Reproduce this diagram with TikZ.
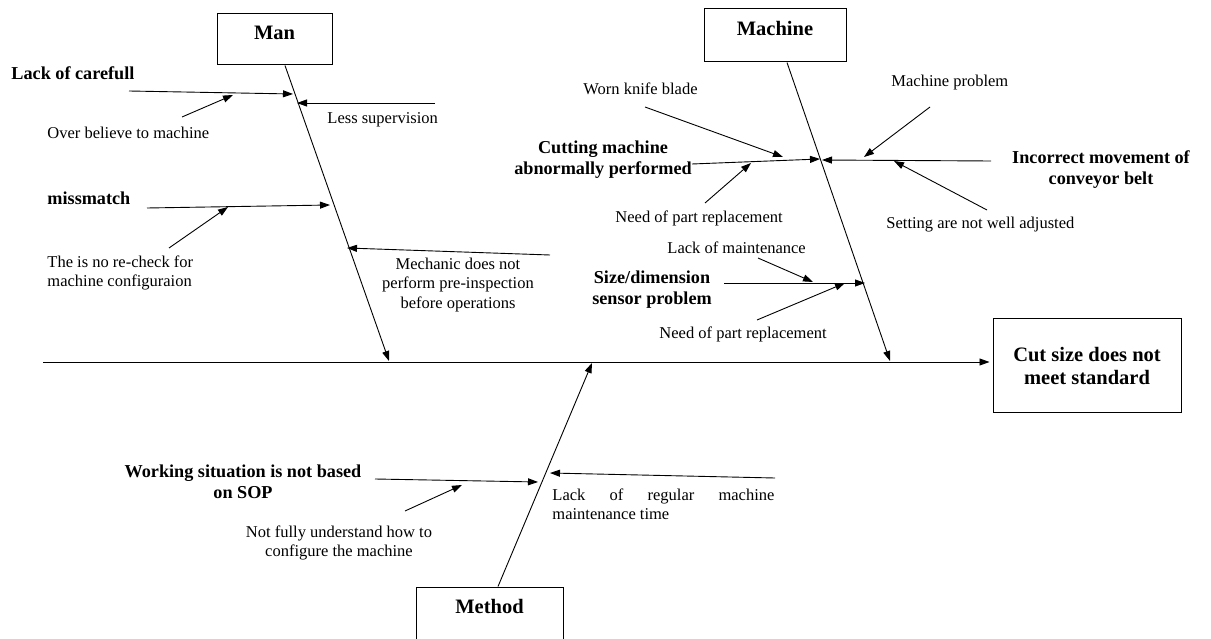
\documentclass[tikz,border=0pt]{standalone}
\usepackage{fontspec}
\setmainfont{Liberation Serif}
\usetikzlibrary{arrows.meta,calc}
\begin{document}
\begin{tikzpicture}[x=1pt,y=-1pt,
  line width=0.9pt,
  arr/.style={-{Triangle[length=10pt,width=7pt]}, line width=0.9pt},
  catbox/.style={draw, line width=1pt, inner sep=0pt, text height=14pt, text depth=14pt,
    font=\fontsize{20.5}{23}\selectfont\bfseries},
  effbox/.style={draw, line width=1pt, inner sep=0pt, align=center,
    font=\fontsize{20.5}{23}\selectfont\bfseries},
  txt/.style={inner sep=0pt, font=\fontsize{16.5}{19.5}\selectfont},
  lbl/.style={inner sep=0pt, font=\fontsize{18.2}{21}\selectfont\bfseries}]
\clip (0,0) rectangle (1211,639);

% category boxes and effect box
\node[catbox, minimum width=115pt, minimum height=51pt] (man) at (274.5,39.5) {Man};
\node[catbox, minimum width=142pt, minimum height=53pt] (machine) at (775,35.5) {Machine};
\node[catbox, minimum width=147pt, minimum height=53pt] (method) at (489.5,613.5) {Method};
\node[effbox, minimum width=188pt, minimum height=93pt] (effect) at (1087,365.5) {Cut size does not\\meet standard};

% backbone
\coordinate (tail) at (43,362);
\draw[arr, shorten >=3pt] (tail) -- (tail -| effect.west);

% main bones
\coordinate (manhead) at (389,361);
\coordinate (machhead) at (890,361);
\coordinate (methhead) at (592,363);
\draw[arr] ([xshift=10.5pt]man.south) -- (manhead);
\draw[arr] ([xshift=12pt]machine.south) -- (machhead);
\draw[arr] ([xshift=8.5pt]method.north) -- (methhead);

% ---- Man ----
\node[lbl, anchor=west] (lackc) at (11,73) {Lack of carefull};
\node[txt, anchor=west] (overb) at (47,133) {Over believe to machine};
\node[txt, anchor=west] (lesss) at (327,120) {Less supervision};
\node[lbl, anchor=west] (missm) at (47,198) {missmatch};
\node[txt, anchor=west, align=left] (norec) at (47,273) {The is no re-check for\\machine configuraion};
\node[txt, align=center] (mech) at (458,285) {Mechanic does not\\perform pre-inspection\\before operations};

\coordinate (lcS) at (129,91);  \coordinate (lcE) at (293,94);
\coordinate (obS) at (182,117); \coordinate (obE) at (233,95);
\coordinate (lsS) at (435,103); \coordinate (lsE) at (297,103);
\coordinate (mmS) at (147,208); \coordinate (mmE) at (330,205);
\coordinate (nrS) at (169,248); \coordinate (nrE) at (228,207);
\coordinate (mcS) at (550,255); \coordinate (mcE) at (347,248);
\draw[arr] (lcS) -- (lcE);
\draw[arr] (obS) -- (obE);
\draw[arr] (lsS) -- (lsE);
\draw[arr] (mmS) -- (mmE);
\draw[arr] (nrS) -- (nrE);
\draw[arr] (mcS) -- (mcE);

% ---- Machine ----
\node[lbl, align=center] (cutm) at (603,160) {Cutting machine\\abnormally performed};
\node[txt, anchor=west] (worn) at (583,89) {Worn knife blade};
\node[txt, anchor=west] (needa) at (615,218) {Need of part replacement};
\node[lbl, align=center] (incm) at (1101,170) {Incorrect movement of\\conveyor belt};
\node[txt, anchor=west] (macp) at (891,83) {Machine problem};
\node[txt, anchor=west] (sett) at (886,225) {Setting are not well adjusted};
\node[lbl, align=center] (sized) at (652,290) {Size/dimension\\sensor problem};
\node[txt, anchor=west] (lackm) at (667,248) {Lack of maintenance};
\node[txt, anchor=west] (needb) at (659,334) {Need of part replacement};

\coordinate (cmS) at (692,164); \coordinate (cmE) at (820,159);
\coordinate (wkS) at (645,107); \coordinate (wkE) at (783,157);
\coordinate (naS) at (705,203); \coordinate (naE) at (751,163);
\coordinate (imS) at (991,161); \coordinate (imE) at (822,160);
\coordinate (mpS) at (930,107); \coordinate (mpE) at (864,157);
\coordinate (stS) at (987,210); \coordinate (stE) at (894,161);
\coordinate (sdS) at (724,283); \coordinate (sdE) at (865,283);
\coordinate (lmS) at (758,258); \coordinate (lmE) at (813,282);
\coordinate (nbS) at (757,320); \coordinate (nbE) at (845,283);
\draw[arr] (cmS) -- (cmE);
\draw[arr] (wkS) -- (wkE);
\draw[arr] (naS) -- (naE);
\draw[arr] (imS) -- (imE);
\draw[arr] (mpS) -- (mpE);
\draw[arr] (stS) -- (stE);
\draw[arr] (sdS) -- (sdE);
\draw[arr] (lmS) -- (lmE);
\draw[arr] (nbS) -- (nbE);

% ---- Method ----
\node[lbl, align=center] (works) at (243,482) {Working situation is not based\\on SOP};
\node[txt, align=center] (notf) at (339,543) {Not fully understand how to\\configure the machine};
\node[txt, align=left, anchor=west] (lackr) at (552,504.5)
  {\makebox[222pt][s]{Lack of regular machine}\\maintenance time};

\coordinate (wsS) at (375,479); \coordinate (wsE) at (538,482);
\coordinate (nfS) at (405,511); \coordinate (nfE) at (462,485);
\coordinate (lrS) at (775,478); \coordinate (lrE) at (550,473);
\draw[arr] (wsS) -- (wsE);
\draw[arr] (nfS) -- (nfE);
\draw[arr] (lrS) -- (lrE);
\end{tikzpicture}
\end{document}
